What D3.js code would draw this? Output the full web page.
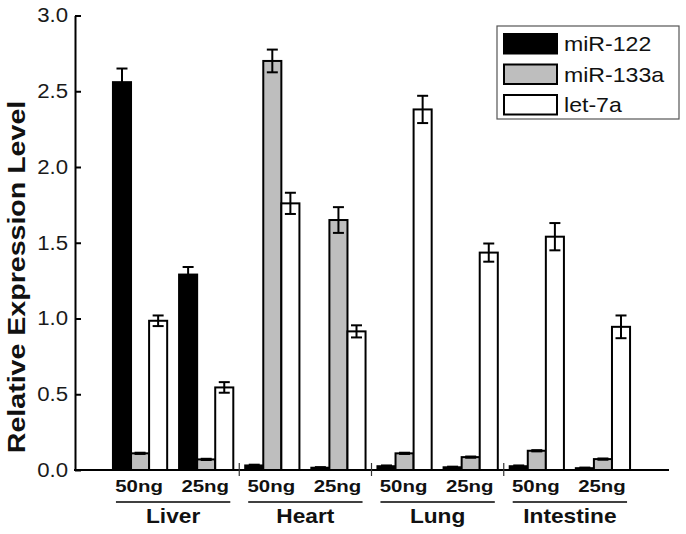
<!DOCTYPE html>
<html>
<head>
<meta charset="utf-8">
<script src="https://cdn.jsdelivr.net/npm/d3@7"></script>
<style>
    body { margin: 0; background: #fff; }
    text { font-family: "Liberation Sans", Arial, sans-serif; }
</style>
</head>
<body>
<div id="chart"></div>
<script>
var width = 686;
var height = 534;

// data
var tissues = ['Liver', 'Heart', 'Lung', 'Intestine'];
var doses = ['50ng', '25ng'];
var seriesNames = ['miR-122', 'miR-133a', 'let-7a'];
var seriesFill = ['#000000', '#bebebe', '#ffffff'];

// one value per tissue/dose, order: Liver 50, Liver 25, Heart 50, ...
var mir122 = [2.56, 1.29, 0.03, 0.015, 0.025, 0.018, 0.025, 0.012];
var mir122Err = [0.09, 0.05, 0.005, 0.004, 0.005, 0.004, 0.005, 0.004];
var mir133a = [0.11, 0.07, 2.70, 1.65, 0.11, 0.085, 0.127, 0.072];
var mir133aErr = [0.004, 0.004, 0.075, 0.085, 0.004, 0.004, 0.004, 0.004];
var let7a = [0.985, 0.545, 1.76, 0.915, 2.38, 1.435, 1.54, 0.945];
var let7aErr = [0.035, 0.035, 0.07, 0.04, 0.09, 0.06, 0.09, 0.075];

var yTicks = [0, 0.5, 1.0, 1.5, 2.0, 2.5, 3.0];

var axisLeftX = 75;
var axisRightX = 669;

var svg = d3.select('#chart').append('svg')
    .attr('width', width)
    .attr('height', height);

// the figure's type is a bit wider than Arial, stretch text to match
function stretch(sel, factor) {
    sel.each(function () {
        var len = this.getComputedTextLength();
        d3.select(this)
            .attr('textLength', len * factor)
            .attr('lengthAdjust', 'spacingAndGlyphs');
    });
}

// build the rows for the bars
var slots = [];
tissues.forEach(function (t) {
    doses.forEach(function (d) {
        slots.push(t + '|' + d);
    });
});
var values = [mir122, mir133a, let7a];
var errors = [mir122Err, mir133aErr, let7aErr];

var rows = [];
slots.forEach(function (s, i) {
    seriesNames.forEach(function (name, k) {
        rows.push({slot: s, series: name, k: k, value: values[k][i], err: errors[k][i]});
    });
});

var y = d3.scaleLinear().domain([0, 3]).range([470, 15.5]);

var x0 = d3.scaleBand()
    .domain(slots)
    .range([107, 636])
    .paddingInner(0.18)
    .paddingOuter(0.09);

var x1 = d3.scaleBand()
    .domain(seriesNames)
    .range([0, x0.bandwidth()]);

// bars
svg.append('g').selectAll('rect')
    .data(rows)
    .enter()
    .append('rect')
        .attr('x', function (d) { return x0(d.slot) + x1(d.series); })
        .attr('y', function (d) { return y(d.value); })
        .attr('width', x1.bandwidth())
        .attr('height', function (d) { return y(0) - y(d.value); })
        .attr('fill', function (d) { return seriesFill[d.k]; })
        .attr('stroke', '#000')
        .attr('stroke-width', 2);

// error bars
var eb = svg.append('g').selectAll('g')
    .data(rows)
    .enter()
    .append('g')
        .attr('transform', function (d) {
            return 'translate(' + (x0(d.slot) + x1(d.series) + x1.bandwidth() / 2) + ',0)';
        });

eb.append('line')
    .attr('x1', 0).attr('x2', 0)
    .attr('y1', function (d) { return y(d.value + d.err); })
    .attr('y2', function (d) { return y(d.value - d.err); })
    .attr('stroke', '#000')
    .attr('stroke-width', 2);

eb.append('line')
    .attr('x1', -5.5).attr('x2', 5.5)
    .attr('y1', function (d) { return y(d.value + d.err); })
    .attr('y2', function (d) { return y(d.value + d.err); })
    .attr('stroke', '#000')
    .attr('stroke-width', 2);

eb.append('line')
    .attr('x1', -5.5).attr('x2', 5.5)
    .attr('y1', function (d) { return y(d.value - d.err); })
    .attr('y2', function (d) { return y(d.value - d.err); })
    .attr('stroke', '#000')
    .attr('stroke-width', 2);

// y axis
var yAxis = d3.axisLeft(y)
    .tickValues(yTicks)
    .tickFormat(d3.format('.1f'))
    .tickSizeInner(-6)
    .tickSizeOuter(0)
    .tickPadding(7);

var gy = svg.append('g')
    .attr('transform', 'translate(' + axisLeftX + ',0)')
    .call(yAxis);
gy.select('.domain').attr('stroke', '#000').attr('stroke-width', 2);
gy.selectAll('.tick line').attr('stroke', '#000').attr('stroke-width', 2);
gy.selectAll('.tick text')
    .attr('font-family', '"Liberation Sans", Arial, sans-serif')
    .attr('font-size', 20)
    .attr('fill', '#1a1a1a');
stretch(gy.selectAll('.tick text'), 1.11);

// x axis baseline
svg.append('line')
    .attr('x1', axisLeftX - 1).attr('x2', axisRightX)
    .attr('y1', y(0)).attr('y2', y(0))
    .attr('stroke', '#000')
    .attr('stroke-width', 2);

// separators between tissues
var step = x0.step();
svg.append('g').selectAll('line')
    .data(tissues.slice(1))
    .enter()
    .append('line')
        .attr('x1', function (t) { return x0(t + '|50ng') - (step - x0.bandwidth()) / 2; })
        .attr('x2', function (t) { return x0(t + '|50ng') - (step - x0.bandwidth()) / 2; })
        .attr('y1', y(0) - 7)
        .attr('y2', y(0) + 6)
        .attr('stroke', '#333')
        .attr('stroke-width', 1.2);

// dose labels
var doseText = svg.append('g').selectAll('text')
    .data(slots)
    .enter()
    .append('text')
        .attr('x', function (s) { return x0(s) + x0.bandwidth() / 2 - 1; })
        .attr('y', 492)
        .attr('text-anchor', 'middle')
        .attr('font-size', 17)
        .attr('font-weight', 'bold')
        .attr('fill', '#111')
        .text(function (s) { return s.split('|')[1]; });
stretch(doseText, 1.2);

// tissue underline + label
var tg = svg.append('g').selectAll('g')
    .data(tissues)
    .enter()
    .append('g');

tg.append('line')
    .attr('x1', function (t) { return x0(t + '|50ng') + 3; })
    .attr('x2', function (t) { return x0(t + '|25ng') + x0.bandwidth() - 3; })
    .attr('y1', 502).attr('y2', 502)
    .attr('stroke', '#000')
    .attr('stroke-width', 1.5);

var tissueText = tg.append('text')
    .attr('x', function (t) { return (x0(t + '|50ng') + x0(t + '|25ng') + x0.bandwidth()) / 2; })
    .attr('y', 523)
    .attr('text-anchor', 'middle')
    .attr('font-size', 21)
    .attr('font-weight', 'bold')
    .attr('fill', '#111')
    .text(function (t) { return t; });
stretch(tissueText, 1.08);

// y title
var title = svg.append('text')
    .attr('transform', 'translate(25,277) rotate(-90)')
    .attr('text-anchor', 'middle')
    .attr('font-size', 24)
    .attr('font-weight', 'bold')
    .attr('fill', '#111')
    .text('Relative Expression Level');
stretch(title, 1.19);

// legend
var legend = svg.append('g');
legend.append('rect')
    .attr('x', 497).attr('y', 26)
    .attr('width', 182).attr('height', 93)
    .attr('fill', '#fff')
    .attr('stroke', '#555')
    .attr('stroke-width', 1.2);

var li = legend.selectAll('g.item')
    .data(seriesNames)
    .enter()
    .append('g')
        .attr('class', 'item')
        .attr('transform', function (d, i) { return 'translate(0,' + (i * 30.5) + ')'; });

li.append('rect')
    .attr('x', 504).attr('y', 34)
    .attr('width', 53).attr('height', 19.5)
    .attr('fill', function (d, i) { return seriesFill[i]; })
    .attr('stroke', '#000')
    .attr('stroke-width', 2);

var legendText = li.append('text')
    .attr('x', 564).attr('y', 51)
    .attr('font-size', 21)
    .attr('fill', '#111')
    .text(function (d) { return d; });
stretch(legendText, 1.1);
</script>
</body>
</html>
